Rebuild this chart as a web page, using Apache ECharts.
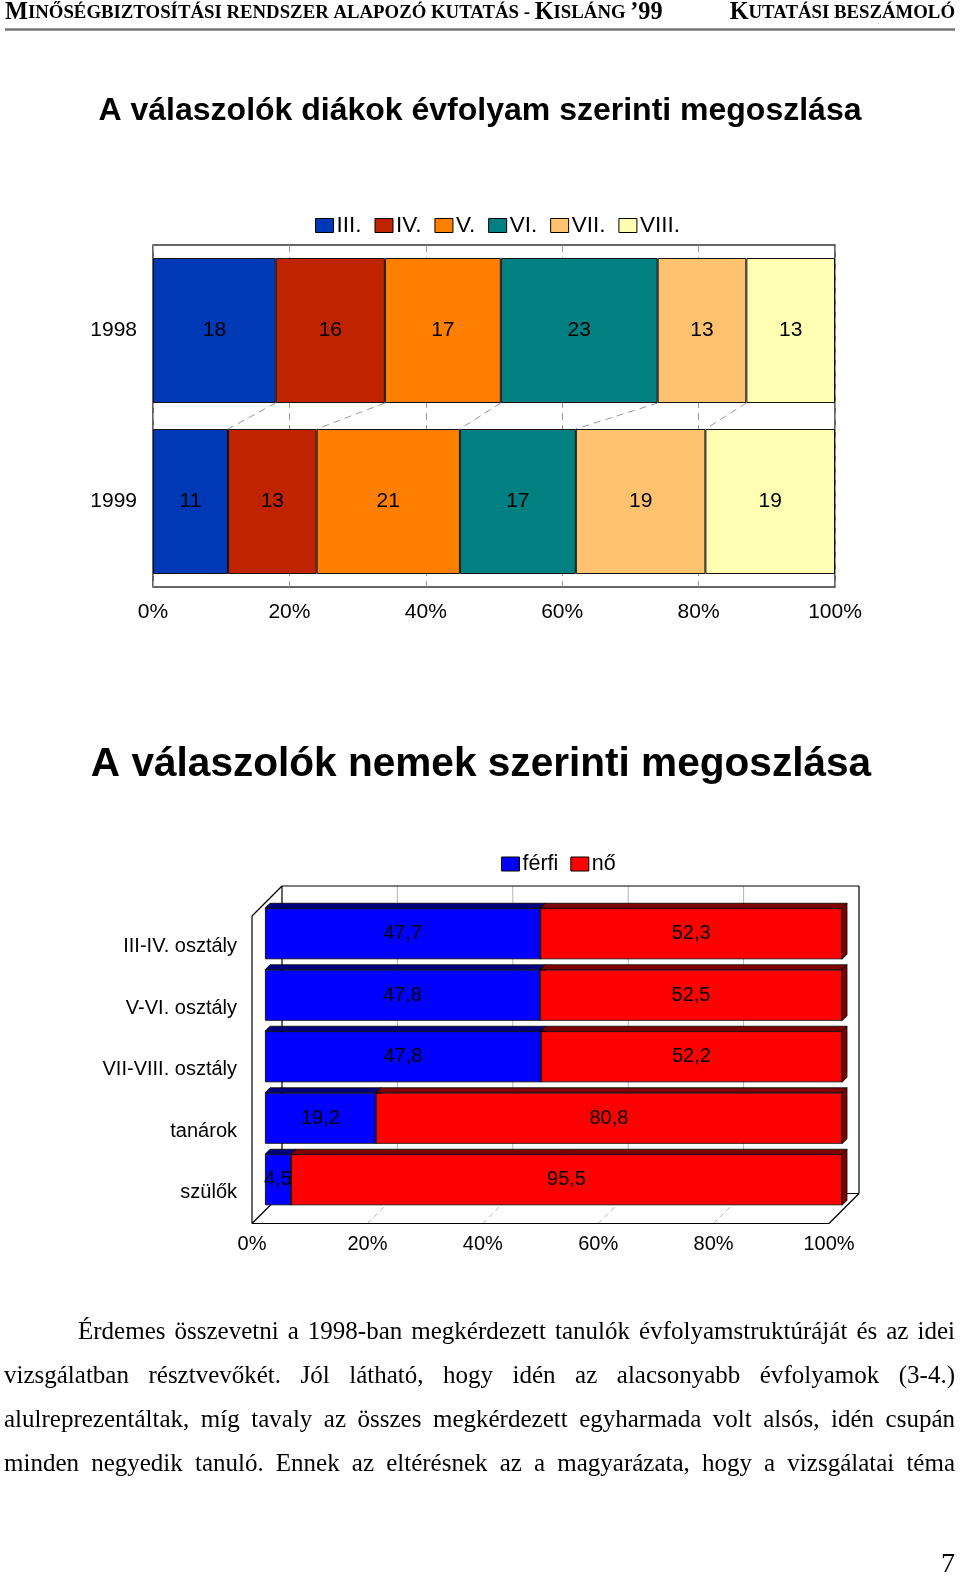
<!DOCTYPE html>
<html><head><meta charset="utf-8">
<script src="https://cdn.jsdelivr.net/npm/echarts@6/dist/echarts.min.js"></script>
<style>html,body{margin:0;padding:0;background:#fff}#c{width:960px;height:1577px}</style>
</head><body><div id="c"></div>
<script>
// ---------- data ----------
const gradeNames = ['III.', 'IV.', 'V.', 'VI.', 'VII.', 'VIII.'];
const years = ['1998', '1999'];
const grades1998 = [18, 16, 17, 23, 13, 13];
const grades1999 = [11, 13, 21, 17, 19, 19];
const pctTicks = [0, 20, 40, 60, 80, 100];

const genderCats = ['III-IV. osztály', 'V-VI. osztály', 'VII-VIII. osztály', 'tanárok', 'szülők'];
const genderNames = ['férfi', 'nő'];
const ferfiValues = [47.7, 47.8, 47.8, 19.2, 4.5];
const noValues = [52.3, 52.5, 52.2, 80.8, 95.5];

const headerLeft = '{b|M}{s|INŐSÉGBIZTOSÍTÁSI RENDSZER ALAPOZÓ KUTATÁS - }{b|K}{s|ISLÁNG }{b|’99}';
const headerRight = '{b|K}{s|UTATÁSI BESZÁMOLÓ}';
const title1 = 'A válaszolók diákok évfolyam szerinti megoszlása';
const title2 = 'A válaszolók nemek szerinti megoszlása';
const paragraphLines = [
  'Érdemes összevetni a 1998-ban megkérdezett tanulók évfolyamstruktúráját és az idei',
  'vizsgálatban résztvevőkét. Jól látható, hogy idén az alacsonyabb évfolyamok (3-4.)',
  'alulreprezentáltak, míg tavaly az összes megkérdezett egyharmada volt alsós, idén csupán',
  'minden negyedik tanuló. Ennek az eltérésnek az a magyarázata, hogy a vizsgálatai téma'
];
const pageNumber = '7';

// ---------- styles ----------
const gradeColors = ['#0039B5', '#BF2300', '#FF8000', '#008080', '#FFC26E', '#FFFFB3'];
const genderColors = ['#0000FF', '#FF0000'];
const genderDark = ['#000080', '#800000'];
const SANS = 'Arial, "Liberation Sans", sans-serif';
const SERIF = '"Liberation Serif", "Times New Roman", serif';
const BAR1 = 145, BAR2 = 51, BAR_DEPTH = 5, BACK = 17, FRONT = 13;

const chart = echarts.init(document.getElementById('c'), null, {renderer: 'canvas'});

// cumulative boundaries for series lines (chart 1)
const seriesLineData = [];
let c98 = 0, c99 = 0;
for (let i = 0; i < gradeNames.length - 1; i++) {
  c98 += grades1998[i]; c99 += grades1999[i];
  seriesLineData.push([c98, 0, c99, 1]);
}

// 3D faces data (chart 2)
const faceData = [];
const ferfiShare = [], noShare = [];
genderCats.forEach((c, i) => {
  const tot = ferfiValues[i] + noValues[i];
  const f = ferfiValues[i] / tot * 100, n = noValues[i] / tot * 100;
  ferfiShare.push({value: f, raw: ferfiValues[i]});
  noShare.push({value: n, raw: noValues[i]});
  faceData.push([0, i, f, 0]);
  faceData.push([f, i, 100, 1]);
});

// paragraph justification
const PARA_SIZE = 25;
const PARA_FONT = PARA_SIZE + 'px ' + SERIF;
const mctx = document.createElement('canvas').getContext('2d');
mctx.font = PARA_FONT;
const paraElements = [];
const paraStartX = [78, 4, 4, 4], paraEndX = 955, paraY0 = 1332, paraDY = 44.3;
paragraphLines.forEach((line, li) => {
  const words = line.split(' ');
  const widths = words.map(w => mctx.measureText(w).width);
  const total = widths.reduce((a, b) => a + b, 0);
  const gap = (paraEndX - paraStartX[li] - total) / (words.length - 1);
  let x = paraStartX[li];
  words.forEach((w, wi) => {
    paraElements.push({type: 'text', x: x, y: paraY0 + li * paraDY,
      style: {text: w, font: PARA_FONT, fill: '#000', verticalAlign: 'middle', align: 'left'}});
    x += widths[wi] + gap;
  });
});

const catAxisLabel = {color: '#000', fontSize: 20, fontFamily: SANS};

const option = {
  animation: false,
  backgroundColor: '#fff',
  graphic: [
    {type: 'text', x: 5, y: 13, style: {text: headerLeft, fill: '#000', verticalAlign: 'middle',
      rich: {b: {fontSize: 24.3, fontFamily: SERIF, fontWeight: 'bold'}, s: {fontSize: 18.8, fontFamily: SERIF, fontWeight: 'bold'}}}},
    {type: 'text', x: 955, y: 13, style: {text: headerRight, fill: '#000', verticalAlign: 'middle', align: 'right',
      rich: {b: {fontSize: 24.3, fontFamily: SERIF, fontWeight: 'bold', align: 'right'}, s: {fontSize: 18.8, fontFamily: SERIF, fontWeight: 'bold', align: 'right'}}}},
    {type: 'line', shape: {x1: 5, y1: 29.5, x2: 955, y2: 29.5}, style: {stroke: '#777', lineWidth: 2.5}},
    {type: 'text', x: 480, y: 111, style: {text: title1, fill: '#000', font: 'bold 32px ' + SANS, align: 'center', verticalAlign: 'middle'}},
    {type: 'text', x: 481, y: 765, style: {text: title2, fill: '#000', font: 'bold 40.6px ' + SANS, align: 'center', verticalAlign: 'middle'}},
    {type: 'text', x: 955, y: 1565, style: {text: pageNumber, fill: '#000', font: '28px ' + SERIF, align: 'right', verticalAlign: 'middle'}}
  ].concat(paraElements),
  legend: [
    {data: gradeNames, left: 310, top: 209, itemWidth: 18, itemHeight: 14, itemGap: 13, icon: 'rect',
      textStyle: {fontSize: 22.5, fontFamily: SANS, color: '#000', padding: [0, 0, 0, -2]},
      itemStyle: {borderColor: '#000', borderWidth: 1}},
    {data: genderNames, left: 496, top: 848, itemWidth: 18, itemHeight: 14, itemGap: 12, icon: 'rect',
      textStyle: {fontSize: 21.5, fontFamily: SANS, color: '#000', padding: [0, 0, 0, -2]},
      itemStyle: {borderColor: '#000', borderWidth: 1}}
  ],
  grid: [
    {left: 153, top: 245, width: 682, height: 342, show: true, borderColor: '#333', borderWidth: 1.5, backgroundColor: 'transparent'},
    {left: 265, top: 903, width: 577, height: 307.5},
    {left: 252, top: 916, width: 577, height: 307.5}
  ],
  xAxis: [
    {type: 'value', gridIndex: 0, min: 0, max: 100, interval: 20,
      axisLabel: {formatter: '{value}%', color: '#000', fontSize: 21, fontFamily: SANS, margin: 15},
      axisLine: {show: false}, axisTick: {show: false},
      splitLine: {show: true, lineStyle: {color: '#999', type: [7, 5], width: 1}}},
    {type: 'value', gridIndex: 1, min: 0, max: 100, interval: 20, show: false, splitLine: {show: false}},
    {type: 'value', gridIndex: 2, min: 0, max: 100, interval: 20,
      axisLabel: {formatter: '{value}%', color: '#000', fontSize: 20, fontFamily: SANS, margin: 11},
      axisLine: {show: false}, axisTick: {show: false}, splitLine: {show: false}}
  ],
  yAxis: [
    {type: 'category', gridIndex: 0, data: years, inverse: true,
      axisLabel: Object.assign({margin: 16}, catAxisLabel, {fontSize: 21}),
      axisLine: {show: false}, axisTick: {show: false}},
    {type: 'category', gridIndex: 1, data: genderCats, inverse: true, show: false},
    {type: 'category', gridIndex: 2, data: genderCats, inverse: true,
      axisLabel: Object.assign({margin: 15}, catAxisLabel),
      axisLine: {show: false}, axisTick: {show: false}}
  ],
  series: []
};

// chart 1 bars
gradeNames.forEach((g, i) => {
  option.series.push({
    type: 'bar', name: g, stack: 'grade', xAxisIndex: 0, yAxisIndex: 0,
    data: [grades1998[i], grades1999[i]], barWidth: BAR1,
    itemStyle: {color: gradeColors[i], borderColor: '#111', borderWidth: 1},
    label: {show: true, position: 'inside', color: '#000', fontSize: 21, fontFamily: SANS},
    z: 3
  });
});
// chart 1 series lines
option.series.push({
  type: 'custom', name: 'serieslines', xAxisIndex: 0, yAxisIndex: 0, z: 2, silent: true,
  encode: {x: [0, 2], y: [1, 3]},
  data: seriesLineData,
  renderItem: function (params, api) {
    const a = api.coord([api.value(0), api.value(1)]);
    const b = api.coord([api.value(2), api.value(3)]);
    return {type: 'line', shape: {x1: a[0], y1: a[1] + BAR1 / 2, x2: b[0], y2: b[1] - BAR1 / 2},
      style: {stroke: '#999', lineWidth: 1, lineDash: [7, 5]}};
  }
});

// chart 2 frame (walls + floor)
option.series.push({
  type: 'custom', name: 'frame', xAxisIndex: 1, yAxisIndex: 1, z: 1, silent: true,
  encode: {x: 0, y: 1},
  data: [[0, 0]],
  renderItem: function (params, api) {
    const cs = params.coordSys;
    const L = cs.x, T = cs.y, R = cs.x + cs.width, B = cs.y + cs.height;
    const ch = [];
    const ln = (x1, y1, x2, y2, st) => ch.push({type: 'line', shape: {x1, y1, x2, y2}, style: st});
    const grid = {stroke: '#b5b5b5', lineWidth: 1};
    const gridDash = {stroke: '#b5b5b5', lineWidth: 1, lineDash: [5, 4]};
    pctTicks.slice(1, -1).forEach(v => {
      const x = api.coord([v, 0])[0];
      ln(x + BACK, T - BACK, x + BACK, B - BACK, grid);
      ln(x - FRONT, B + FRONT, x + BACK, B - BACK, gridDash);
    });
    const k = {stroke: '#000', lineWidth: 1.2};
    ln(L + BACK, T - BACK, R + BACK, T - BACK, k);
    ln(R + BACK, T - BACK, R + BACK, B - BACK, k);
    ln(L + BACK, T - BACK, L + BACK, B - BACK, k);
    ln(L + BACK, B - BACK, R + BACK, B - BACK, k);
    ln(L - FRONT, T + FRONT, L + BACK, T - BACK, k);
    ln(L - FRONT, T + FRONT, L - FRONT, B + FRONT, k);
    ln(L - FRONT, B + FRONT, R - FRONT, B + FRONT, k);
    ln(L - FRONT, B + FRONT, L + BACK, B - BACK, k);
    ln(R - FRONT, B + FRONT, R + BACK, B - BACK, k);
    return {type: 'group', children: ch};
  }
});
// chart 2 3D faces
option.series.push({
  type: 'custom', name: 'faces', xAxisIndex: 1, yAxisIndex: 1, z: 2, silent: true,
  encode: {x: [0, 2], y: 1},
  data: faceData,
  renderItem: function (params, api) {
    const x1 = api.coord([api.value(0), api.value(1)])[0];
    const c = api.coord([api.value(2), api.value(1)]);
    const x2 = c[0], cy = c[1];
    const top = cy - BAR2 / 2, bot = cy + BAR2 / 2, d = BAR_DEPTH;
    const fill = genderDark[api.value(3)];
    const st = {fill: fill, stroke: '#000', lineWidth: 0.8};
    return {type: 'group', children: [
      {type: 'polygon', shape: {points: [[x1, top], [x1 + d, top - d], [x2 + d, top - d], [x2, top]]}, style: st},
      {type: 'polygon', shape: {points: [[x2, top], [x2 + d, top - d], [x2 + d, bot - d], [x2, bot]]}, style: st}
    ]};
  }
});
// chart 2 front faces
[ferfiShare, noShare].forEach((d, i) => {
  option.series.push({
    type: 'bar', name: genderNames[i], stack: 'gender', xAxisIndex: 1, yAxisIndex: 1,
    data: d, barWidth: BAR2, z: 3,
    itemStyle: {color: genderColors[i], borderColor: '#000', borderWidth: 0.8},
    label: {show: true, position: 'inside', color: '#000', fontSize: 20, fontFamily: SANS,
      formatter: p => String(p.data.raw).replace('.', ',')}
  });
});

chart.setOption(option);
</script>
</body></html>
